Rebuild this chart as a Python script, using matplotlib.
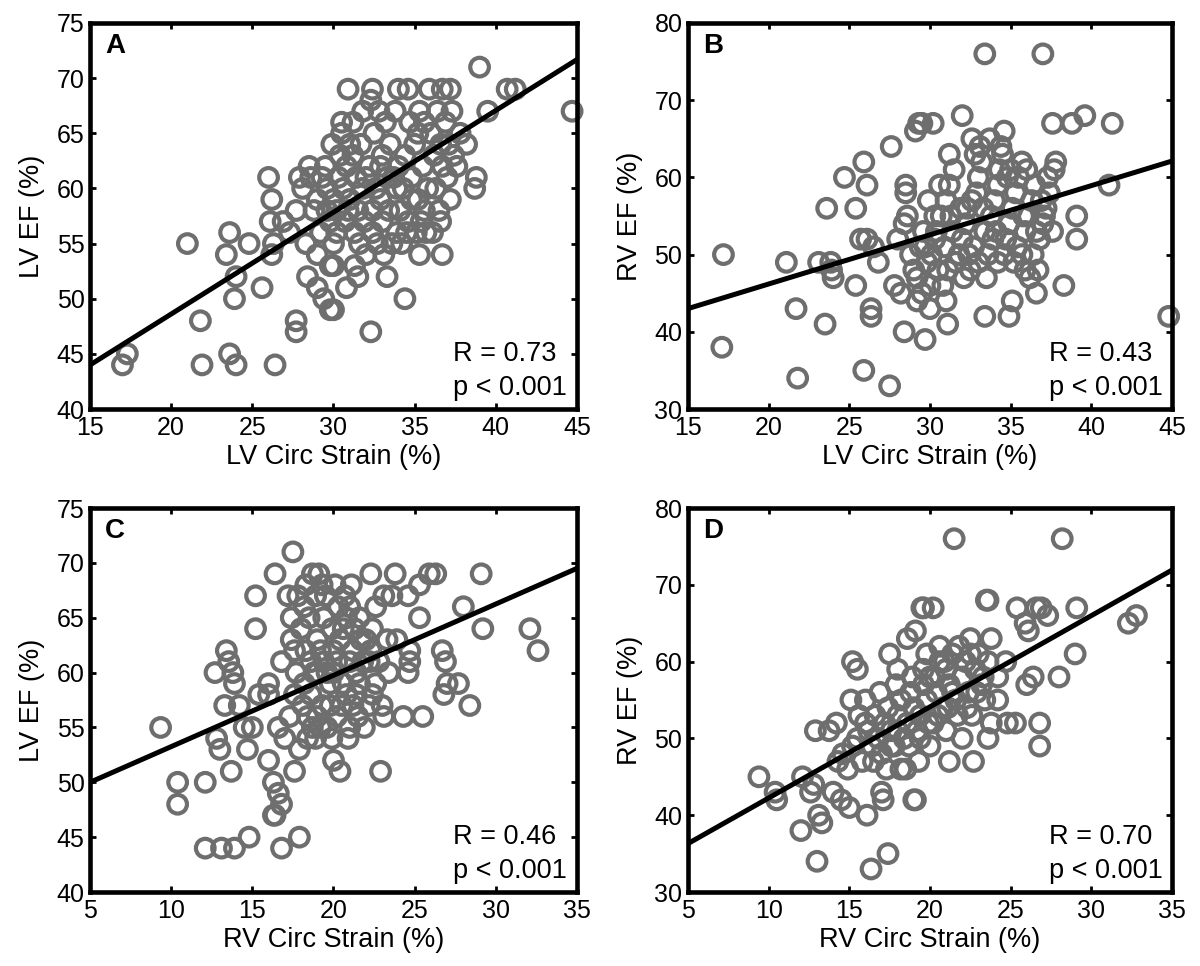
import numpy as np
import matplotlib
matplotlib.use("Agg")
import matplotlib.pyplot as plt

plt.rcParams['font.family'] = ['Liberation Sans', 'DejaVu Sans']

# Panel A: LV circ strain vs LV EF
a_x = [17.3, 17.0, 21.0, 21.8, 21.9, 23.6, 23.4, 23.6, 24.0, 24.0, 23.9, 24.8, 25.6, 26.0, 26.2,
       26.1, 26.3, 26.2, 26.4, 26.9, 27.7, 27.7, 27.9, 28.1, 27.7, 27.3, 28.5, 29.0, 28.3, 28.4,
       29.0, 29.4, 29.8, 29.5, 29.0, 29.8, 29.8,
       39.0, 30.9, 32.4, 34.0, 34.6, 35.9, 36.7, 37.2, 40.7, 41.2, 44.7, 39.5, 38.8, 38.7, 36.5,
       36.7, 33.3, 34.4, 32.3, 30.0, 33.9, 34.5, 35.1, 35.7, 30.0, 30.0, 31.6,
       30.5, 31.0, 31.2, 30.8, 30.3, 30.6, 31.0, 30.2, 30.7, 31.3, 31.5, 31.8, 32.0, 32.2, 31.7,
       32.5, 32.8, 33.2, 33.5, 33.0, 32.6, 32.9, 33.4, 33.7, 34.0, 34.3, 34.1, 34.6, 33.0, 32.4,
       32.0, 31.3, 30.8, 31.5, 32.7,
       35.3, 35.6, 36.0, 36.4, 36.9, 37.3, 37.8, 36.2, 36.7, 37.4, 35.5, 35.0, 34.8, 35.8, 36.3,
       37.0, 37.6, 35.2, 35.6, 37.2, 38.2, 33.6, 34.2,
       28.8, 29.2, 29.6, 30.0, 28.6, 29.3, 30.4, 29.9, 30.5,
       31.2, 31.8, 32.3, 33.8, 34.7, 35.2, 36.6, 37.1, 33.3, 33.9, 32.4, 31.9, 34.8, 35.4, 36.1,
       36.6, 30.9, 29.6, 31.4, 32.9, 34.4, 30.2, 33.1, 35.3]
a_y = [45, 44, 55, 48, 44, 56, 54, 45, 44, 52, 50, 55, 51, 61, 59,
       57, 55, 54, 44, 57, 48, 47, 61, 60, 58, 56, 62, 59, 55, 52,
       51, 50, 49, 62, 54, 53, 57,
       71, 69, 69, 69, 69, 69, 69, 69, 69, 69, 67, 67, 61, 60, 58,
       54, 52, 50, 47, 49, 56, 56, 56, 56, 55, 53, 55,
       65, 64, 63, 62, 61, 60, 59, 58, 57, 56, 58, 60, 61, 62, 64,
       65, 67, 66, 64, 63, 60, 59, 58, 61, 62, 60, 58, 57, 57, 56,
       54, 53, 51, 52, 55,
       67, 66, 65, 67, 66, 67, 65, 63, 62, 63, 62, 64, 61, 60, 60,
       61, 62, 59, 58, 59, 64, 55, 55,
       58, 56, 60, 59, 61, 61, 63, 64, 66,
       66, 67, 68, 67, 66, 65, 64, 64, 61, 60, 58, 57, 59, 57, 56,
       57, 58, 58, 61, 62, 63, 56, 54, 54]

# Panel B: LV circ strain vs RV EF
b_x = [17.2, 17.1, 21.1, 21.7, 21.8, 23.5, 23.6, 23.1, 23.85, 24.0, 23.9, 24.7, 25.9, 26.1, 25.4,
       25.4, 25.9, 26.35, 26.35, 26.1, 25.7, 26.5, 27.6, 27.5, 26.8, 28.4, 28.5, 28.5, 28.6, 28.4,
       29.1, 29.5, 28.0, 27.8, 28.2,
       33.4, 37.0, 32.0, 29.3, 30.2, 37.6, 38.8, 39.6, 41.3, 34.6, 32.6, 31.2, 41.1, 39.1, 39.1,
       38.3, 44.8, 34.9, 33.4, 35.1, 31.1, 29.7, 30.0, 36.6, 36.7, 35.9, 36.2, 35.7, 37.8, 37.7, 37.1,
       28.8, 29.0, 29.2, 29.4, 29.6, 29.8, 30.1, 30.3, 30.0, 30.5, 30.7, 30.9, 31.0, 31.2, 31.4,
       31.6, 31.8, 32.0, 32.2, 32.3, 32.5, 32.7, 32.9, 33.0, 33.2, 33.4, 33.6, 33.8, 34.0, 34.2,
       34.3, 34.5, 34.7, 34.9, 35.1, 35.3, 35.5, 35.7, 35.9, 36.1, 36.3, 36.5, 36.8, 37.0, 37.2,
       37.4, 37.6, 33.1, 33.7, 34.4, 35.0, 36.0, 31.5, 30.6, 29.9, 29.5, 30.8, 32.1, 33.5, 34.2,
       35.4, 36.4, 31.0, 29.2,
       31.3, 31.9, 32.6, 33.3, 33.9, 34.6, 35.2, 35.8, 36.6, 32.4, 31.1, 30.4, 29.7, 33.0, 34.1,
       36.9, 37.3, 34.8, 32.8, 30.3]
b_y = [50, 38, 49, 43, 34, 41, 56, 49, 49, 47, 48, 60, 62, 59, 56,
       46, 35, 43, 42, 52, 52, 51, 64, 33, 49, 40, 59, 58, 55, 54,
       66, 67, 52, 46, 45,
       76, 76, 68, 67, 67, 67, 67, 68, 67, 66, 65, 63, 59, 55, 52,
       46, 42, 42, 42, 44, 41, 39, 43, 45, 48, 48, 47, 50, 62, 61, 55,
       50, 48, 47, 51, 53, 49, 50, 52, 46, 48, 55, 51, 57, 59, 53,
       49, 50, 52, 54, 56, 48, 51, 58, 60, 62, 53, 50, 55, 57, 59,
       61, 63, 52, 54, 56, 58, 60, 62, 53, 55, 57, 59, 52, 54, 56,
       58, 53, 64, 65, 64, 61, 61, 61, 59, 57, 45, 46, 47, 47, 49,
       51, 50, 44, 44,
       55, 56, 57, 56, 52, 50, 49, 55, 53, 50, 48, 53, 51, 49, 53,
       57, 60, 60, 63, 55]

# Panel C: RV circ strain vs LV EF
c_x = [9.35, 10.4, 10.4, 12.1, 12.1, 13.1, 13.9, 14.8, 16.8, 17.9, 13.4, 13.55, 13.8, 12.7, 13.9,
       13.3, 14.2, 12.8, 13.0, 13.7, 14.7, 15.0, 14.5, 15.2, 15.2, 16.4, 17.5, 16.0, 16.3, 16.6,
       16.8, 16.3, 16.4, 17.6, 16.0, 16.8, 16.0, 15.4, 17.2, 17.4, 17.4, 17.6, 18.7, 19.1, 19.3, 18.9,
       29.1, 26.3, 25.9, 25.3, 23.8, 22.3, 21.1, 23.6, 23.1, 24.6, 28.0, 25.3, 29.2, 32.1, 32.6,
       26.7, 24.7, 24.6, 26.9, 27.0, 26.8, 27.7, 28.4, 25.5, 24.3, 23.1, 23.0, 22.9, 20.4, 20.0,
       21.0, 23.3, 23.9, 21.6, 24.7, 22.2,
       17.8, 18.2, 18.5, 18.0, 18.3, 18.6, 18.8, 19.0, 19.2, 19.4, 19.6, 19.8, 20.0, 20.2, 20.4,
       20.6, 20.8, 21.0, 21.2, 21.4, 21.6, 21.8, 22.0, 22.4, 22.6, 19.5, 20.1, 18.1, 18.4, 18.7,
       19.0, 19.3, 19.6, 19.9, 20.2, 20.5, 20.8, 21.2, 21.5, 21.9, 22.2, 18.2, 17.7, 17.3, 17.0,
       16.6, 17.9, 18.4, 22.6, 23.4, 20.9,
       18.3, 18.9, 19.4, 19.9, 20.3, 20.7, 21.3, 21.7, 22.3, 19.0, 19.8, 20.6, 21.4, 22.4, 18.6,
       17.6, 20.0, 21.0, 22.8, 19.2]
c_y = [55, 50, 48, 50, 44, 44, 44, 45, 44, 45, 62, 61, 60, 60, 59,
       57, 57, 54, 53, 51, 53, 55, 55, 64, 67, 69, 71, 52, 50, 49,
       48, 47, 47, 51, 58, 61, 59, 58, 67, 65, 63, 58, 69, 69, 68, 54,
       69, 69, 69, 68, 69, 69, 68, 67, 67, 67, 66, 65, 64, 64, 62,
       62, 61, 60, 61, 59, 58, 59, 57, 56, 56, 56, 57, 51, 51, 52,
       55, 63, 63, 65, 62, 61,
       67, 66, 65, 64, 62, 61, 60, 63, 62, 61, 60, 59, 62, 61, 63,
       64, 65, 66, 62, 60, 59, 61, 63, 64, 66, 67, 68, 57, 56, 55,
       56, 57, 55, 54, 56, 57, 58, 57, 56, 55, 57, 59, 60, 56, 54,
       55, 53, 54, 59, 60, 54,
       68, 67, 65, 64, 66, 67, 64, 63, 62, 60, 57, 59, 58, 58, 58,
       62, 60, 61, 61, 55]

# Panel D: RV circ strain vs RV EF
d_x = [9.4, 10.4, 10.5, 12.1, 12.0, 13.0, 13.1, 13.3, 12.9, 13.75, 14.2, 12.6, 12.8, 14.0, 14.5,
       15.0, 15.2, 15.5, 15.1, 16.0, 16.1, 16.35, 17.4, 17.0, 17.1, 17.5, 18.0, 18.6, 19.1, 19.5,
       19.0, 18.2,
       21.5, 28.2, 32.3, 32.8, 29.1, 23.5, 23.6, 25.4, 26.6, 27.3, 26.9, 19.6, 20.2, 25.9, 26.1,
       23.8, 22.5, 29.0, 28.0, 26.4, 26.0, 24.7, 24.2, 26.8, 26.8, 24.8, 25.3, 22.7, 21.2, 19.1,
       14.3, 14.6, 14.9, 15.2, 15.5, 15.8, 16.0, 16.2, 16.4, 16.6, 16.8, 17.0, 17.2, 17.4, 17.6,
       17.8, 18.0, 18.2, 18.4, 18.6, 18.8, 19.0, 19.2, 19.4, 19.6, 19.8, 20.0, 20.2, 20.4, 20.6,
       20.8, 21.0, 21.2, 21.4, 21.6, 21.8, 22.0, 22.2, 22.4, 22.6, 22.8, 23.0, 23.2, 23.4, 23.6,
       20.0, 19.3, 18.5, 21.0, 22.0, 20.6, 19.8, 17.9, 16.9, 15.6, 24.2, 23.8,
       18.0, 18.7, 19.4, 19.9, 20.5, 21.1, 21.7, 22.3, 22.9, 23.3, 21.4, 20.3, 19.6, 18.9, 20.9,
       22.5, 16.5, 17.3, 17.6, 23.6]
d_y = [45, 43, 42, 45, 38, 34, 40, 39, 51, 51, 52, 43, 44, 43, 42,
       41, 60, 59, 55, 55, 40, 33, 35, 43, 42, 61, 59, 63, 64, 67,
       42, 46,
       76, 76, 65, 66, 67, 68, 68, 67, 67, 66, 67, 67, 67, 65, 64,
       63, 63, 61, 58, 58, 57, 60, 55, 52, 49, 52, 52, 47, 47, 42,
       47, 48, 46, 49, 50, 47, 52, 51, 49, 53, 50, 48, 52, 54, 51,
       49, 53, 55, 50, 52, 56, 54, 51, 53, 57, 55, 58, 52, 56, 60,
       54, 59, 57, 61, 55, 62, 58, 60, 56, 53, 59, 61, 57, 55, 50,
       49, 47, 46, 51, 50, 62, 61, 57, 56, 53, 58, 52,
       51, 49, 50, 52, 53, 54, 53, 54, 56, 58, 56, 58, 59, 58, 60,
       61, 47, 46, 49, 60]

# regression lines (intercept, slope)
fit_icpt = [30.15, 33.45, 46.75, 30.37]
fit_slope = [0.923, 0.637, 0.65, 1.187]
r_vals = ['0.73', '0.43', '0.46', '0.70']
letters = ['A', 'B', 'C', 'D']
xlabels = ['LV Circ Strain (%)', 'LV Circ Strain (%)', 'RV Circ Strain (%)', 'RV Circ Strain (%)']
ylabels = ['LV EF (%)', 'RV EF (%)', 'LV EF (%)', 'RV EF (%)']
xlims = [(15, 45), (15, 45), (5, 35), (5, 35)]
ylims = [(40, 75), (30, 80), (40, 75), (30, 80)]
ysteps = [5, 10, 5, 10]

xs = [a_x, b_x, c_x, d_x]
ys = [a_y, b_y, c_y, d_y]

fig = plt.figure(figsize=(12, 9.66), dpi=100)
boxes = [[0.075, 0.5766, 0.4058, 0.3996],
         [0.5733, 0.5766, 0.4033, 0.3996],
         [0.075, 0.0766, 0.4058, 0.3975],
         [0.5733, 0.0766, 0.4033, 0.3975]]

for i in range(4):
    ax = fig.add_axes(boxes[i])
    ax.scatter(xs[i], ys[i], s=180, facecolors='none', edgecolors='#6e6e6e',
               linewidths=3.0, zorder=2, clip_on=False)
    ax.axline((0, fit_icpt[i]), slope=fit_slope[i], color='black', lw=3.6, zorder=3)
    ax.set_xlim(*xlims[i])
    ax.set_ylim(*ylims[i])
    ax.set_xticks(np.arange(xlims[i][0], xlims[i][1] + 1, 5))
    ax.set_yticks(np.arange(ylims[i][0], ylims[i][1] + 1, ysteps[i]))
    ax.tick_params(direction='in', length=4.5, width=2, labelsize=18,
                   top=True, right=True)
    ax.tick_params(axis='x', pad=5)
    ax.tick_params(axis='y', pad=4)
    for sp in ax.spines.values():
        sp.set_linewidth(3.3)
    ax.set_xlabel(xlabels[i], fontsize=19.5, labelpad=3)
    ax.set_ylabel(ylabels[i], fontsize=19.5, labelpad=8)
    ax.text(0.031, 0.94, letters[i], transform=ax.transAxes, fontsize=20,
            fontweight='bold', ha='left', va='center')
    ax.text(0.745, 0.142, 'R = ' + r_vals[i], transform=ax.transAxes,
            fontsize=19.5, ha='left', va='center')
    ax.text(0.745, 0.055, 'p < 0.001', transform=ax.transAxes,
            fontsize=19.5, ha='left', va='center')

fig.savefig('out.png', dpi=100)
